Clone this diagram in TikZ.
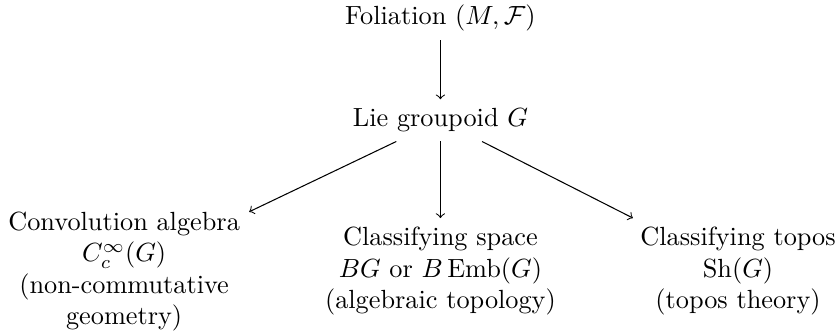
\documentclass[tikz,border=0pt]{standalone}
\usepackage{amsmath,amssymb}
\usetikzlibrary{positioning}
\DeclareMathOperator{\Emb}{Emb}
\DeclareMathOperator{\Sh}{Sh}
\tikzset{
  obj/.style={
    align = center,
  },
  map/.style={
    ->,
  },
}

\begin{document}
\begin{tikzpicture}
\useasboundingbox (0,0) rectangle (11.18,4.45);
\node[obj] (fol) at (5.89,4.21) {Foliation $(M,\mathcal{F})$};
\node[obj] (lie) at (5.89,2.84) {Lie groupoid $G$};
\node[obj] (conv) at (1.66,0.82) {Convolution algebra\\ $C_c^\infty(G)$\\ (non-commutative\\ geometry)};
\node[obj] (space) at (5.89,0.82) {Classifying space\\ $BG$ or $B\Emb(G)$\\ (algebraic topology)};
\node[obj] (topos) at (9.87,0.82) {Classifying topos\\ $\Sh(G)$\\ (topos theory)};
\draw[map] (fol) -- (lie);
\draw[map] (lie) -- (conv);
\draw[map] (lie) -- (space);
\draw[map] (lie) -- (topos);
\end{tikzpicture}
\end{document}
